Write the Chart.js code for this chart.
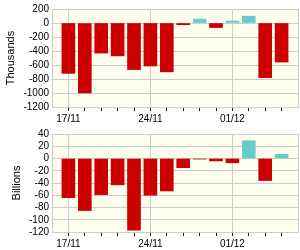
<!DOCTYPE html>
<html>
<head>
<meta charset="utf-8">
<script src="https://cdn.jsdelivr.net/npm/chart.js@4/dist/chart.umd.min.js"></script>
<style>
  html, body { margin: 0; padding: 0; background: #ffffff; }
  canvas { display: block; }
</style>
</head>
<body>
<canvas id="top" width="300" height="125"></canvas>
<canvas id="bottom" width="300" height="125"></canvas>
<script>
const categories = ['17/11','18/11','19/11','20/11','21/11','24/11','25/11','26/11','27/11','28/11','01/12','02/12','03/12','04/12'];
const shownLabels = ['17/11','24/11','01/12'];
const thousandsValues = [-720, -1000, -430, -470, -665, -614, -698, -25, 56, -65, 28, 98, -781, -558];
const billionsValues = [-64, -85, -59, -43, -117, -60, -53, -15, -1, -4, -7, 29, -36, 7];
const thousandsTicks = { min: -1200, max: 200, step: 200 };
const billionsTicks = { min: -120, max: 40, step: 20 };

const FONT = "'Liberation Sans', Arial, sans-serif";
const RED = '#cc0000';
const TEAL = '#66cccc';
const GRID = '#cccccc';
const axisLabels = [''].concat(categories, ['']);

const bgPlugin = {
  id: 'plotBg',
  beforeDraw(chart) {
    const a = chart.chartArea;
    const ctx = chart.ctx;
    ctx.save();
    ctx.fillStyle = '#ffffef';
    ctx.fillRect(a.left, a.top, a.right - a.left, a.bottom - a.top);
    ctx.restore();
  }
};

function makeChart(id, values, ticks, title, titlePad) {
  const data = [null].concat(values, [null]);
  return new Chart(document.getElementById(id), {
    type: 'bar',
    data: {
      labels: axisLabels,
      datasets: [{
        data: data,
        backgroundColor: (c) => (c.raw !== null && c.raw >= 0) ? TEAL : RED,
        barThickness: 13,
        borderWidth: 0
      }]
    },
    options: {
      responsive: false,
      animation: false,
      events: [],
      layout: { padding: { top: 7, right: 1, left: 0, bottom: 0 } },
      plugins: { legend: { display: false }, tooltip: { enabled: false } },
      scales: {
        x: {
          type: 'category',
          offset: false,
          afterFit: (s) => { s.height = 18; },
          border: { color: GRID, width: 1 },
          grid: {
            offset: false,
            tickLength: 4,
            color: (c) => {
              const i = c.index;
              if (i === axisLabels.length - 1) return GRID;
              return shownLabels.includes(axisLabels[i]) ? GRID : 'rgba(0,0,0,0)';
            },
            tickColor: (c) => {
              const i = c.index;
              return (i > 0 && i < axisLabels.length - 1) ? '#000000' : 'rgba(0,0,0,0)';
            },
            tickWidth: 1
          },
          ticks: {
            autoSkip: false,
            maxRotation: 0,
            minRotation: 0,
            padding: 2,
            color: '#000000',
            font: { family: FONT, size: 10 },
            callback: function (v, i) {
              const l = axisLabels[i];
              return shownLabels.includes(l) ? l : '';
            }
          }
        },
        y: {
          min: ticks.min,
          max: ticks.max,
          afterFit: (s) => { s.width = 52; },
          border: { color: GRID, width: 1 },
          grid: { color: GRID, drawTicks: false, lineWidth: 1 },
          ticks: {
            stepSize: ticks.step,
            autoSkip: false,
            padding: 3,
            color: '#000000',
            font: { family: FONT, size: 10 },
            callback: (v) => String(v)
          },
          title: {
            display: true,
            text: title,
            color: '#000000',
            font: { family: FONT, size: 11 },
            padding: { top: titlePad, bottom: 0 }
          }
        }
      }
    },
    plugins: [bgPlugin]
  });
}

makeChart('top', thousandsValues, thousandsTicks, 'Thousands', 4);
makeChart('bottom', billionsValues, billionsTicks, 'Billions', 10);
</script>
</body>
</html>
